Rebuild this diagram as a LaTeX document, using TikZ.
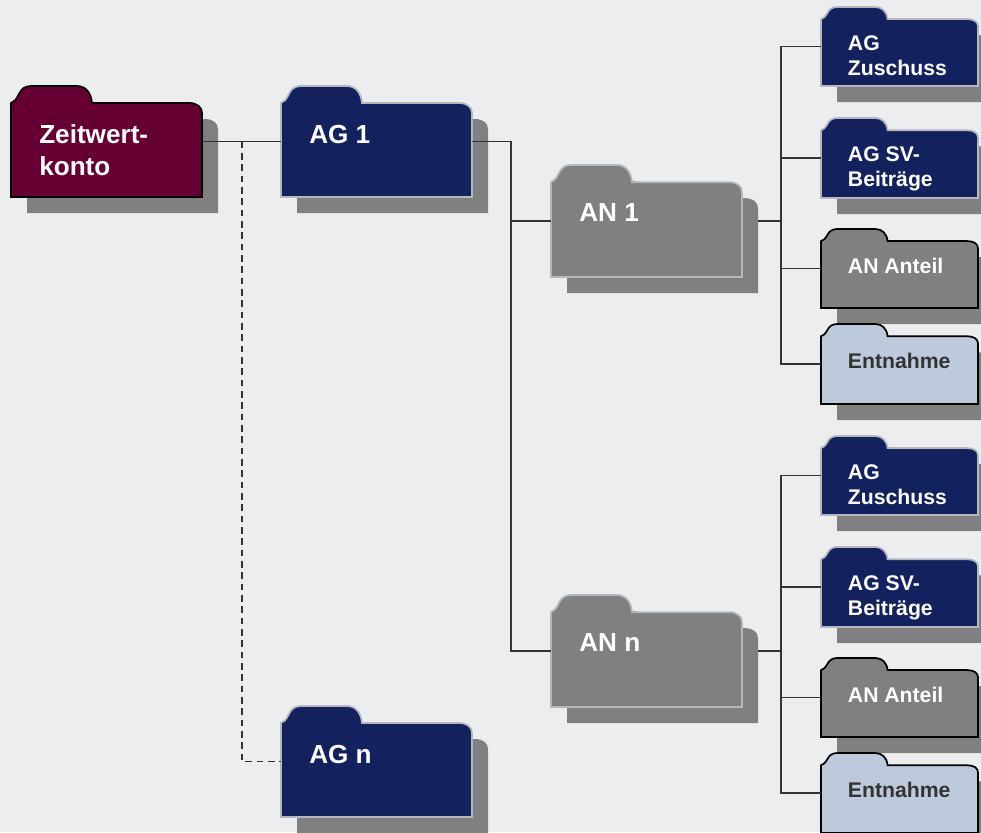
\documentclass[tikz,border=0pt]{standalone}
\usepackage{fontspec}
\setmainfont{Liberation Sans}
\definecolor{pagegrey}{HTML}{EBEDEF}
\definecolor{shadowgrey}{HTML}{808080}
\definecolor{maroonfill}{HTML}{660033}
\definecolor{navyfill}{HTML}{14215F}
\definecolor{paleblue}{HTML}{BDCADB}
\definecolor{paleedge}{HTML}{B4B8BC}
\definecolor{linegrey}{HTML}{333333}
\tikzset{
	foldermaroon/.style={fill=maroonfill,draw=black,line width=1.3pt},
	foldernavy/.style={fill=navyfill,draw=paleedge,line width=1.3pt},
	foldergrey/.style={fill=shadowgrey,draw=paleedge,line width=1.3pt},
	folderdark/.style={fill=shadowgrey,draw=black,line width=1.3pt},
	folderpale/.style={fill=paleblue,draw=black,line width=1.3pt},
	labelbig/.style={anchor=north west,inner sep=0pt,align=left,text=white,xshift=21pt,yshift=-29pt,
		font=\bfseries\fontsize{19.6}{24}\selectfont},
	labelsmall/.style={anchor=north west,inner sep=0pt,align=left,text=white,xshift=20pt,yshift=-21.6pt,
		font=\bfseries\fontsize{15.9}{18.8}\selectfont},
	labeldark/.style={labelsmall,text=linegrey},
	conn/.style={draw=linegrey,line width=1pt},
	connthick/.style={draw=linegrey,line width=1.6pt},
	conndash/.style={draw=linegrey,line width=1pt,dash pattern=on 5pt off 3.5pt},
}
\newcommand{\folderoutline}{(0,17) .. controls (3,16) and (5,14) .. (8,8) .. controls (10,3) and (14,0) .. (20,0)
	-- (66,0) .. controls (74,0) and (80,6) .. (81,17) -- (178,17) .. controls (186,17) and (191,21) .. (191,27)
	-- (191,111) -- (0,111) -- cycle}
% name, x, y, width, height, folder look, label look, text
\newcommand{\folder}[8]{
	\begin{scope}[shift={(#2+16,#3+16)},xscale=#4/191,yscale=#5/111]
		\fill[shadowgrey] \folderoutline;
	\end{scope}
	\begin{scope}[shift={(#2,#3)},xscale=#4/191,yscale=#5/111]
		\path[#6] \folderoutline;
	\end{scope}
	\node[anchor=north west,inner sep=0pt,outer sep=0pt,minimum width=#4*0.75pt,minimum height=#5*0.75pt] (#1) at (#2,#3) {};
	\node[#7] (#1text) at (#1.north west) {#8};
}

\begin{document}
\begin{tikzpicture}[x=0.75pt,y=-0.75pt]
		
		\useasboundingbox (0,0) rectangle (981,832);
		\clip (0,0) rectangle (981,832);
		\fill[pagegrey] (0,0) rectangle (981,832);
		
		\folder{zeit}{11}{86}{191}{111}{foldermaroon}{labelbig}{Zeitwert-\\konto}
		\folder{agone}{281}{86}{191}{111}{foldernavy}{labelbig}{AG 1}
		\folder{agn}{281}{706}{191}{111}{foldernavy}{labelbig}{AG n}
		\folder{anone}{551}{165}{191}{112}{foldergrey}{labelbig}{AN 1}
		\folder{ann}{551}{595}{191}{112}{foldergrey}{labelbig}{AN n}
		
		% upper column
		\folder{zuone}{821}{7}{157}{79}{foldernavy}{labelsmall}{AG\\Zuschuss}
		\folder{svone}{821}{118}{157}{80}{foldernavy}{labelsmall}{AG SV-\\Beiträge}
		\folder{antone}{821}{229}{157}{79}{folderdark}{labelsmall}{AN Anteil}
		\folder{entone}{821}{324}{157}{80}{folderpale}{labeldark}{Entnahme}
		
		% lower column
		\folder{zun}{821}{436}{157}{79}{foldernavy}{labelsmall}{AG\\Zuschuss}
		\folder{svn}{821}{547}{157}{80}{foldernavy}{labelsmall}{AG SV-\\Beiträge}
		\folder{antn}{821}{658}{157}{79}{folderdark}{labelsmall}{AN Anteil}
		\folder{entn}{821}{753}{157}{80}{folderpale}{labeldark}{Entnahme}
		
		\coordinate (dashbranch) at ([xshift=30pt]zeit.east);
		\coordinate (agbus) at ([xshift=29.25pt]agone.east);
		\coordinate (anoneout) at ([xshift=12pt]anone.east);
		\coordinate (annout) at ([xshift=12pt]ann.east);
		\coordinate (busone) at ([xshift=17.25pt]anoneout);
		\coordinate (busn) at ([xshift=17.25pt]annout);
		
		\draw[conn] (zeit.east) -- (agone.west);
		\draw[conndash] (dashbranch) |- (agn.west);
		\draw[conn] (agone.east) -- (agbus) |- (anone.west);
		\draw[conn] (agbus) |- (ann.west);
		
		\draw[connthick] (anoneout) -- (busone);
		\draw[conn] (busone) |- (zuone.west);
		\draw[conn] (busone) |- (svone.west);
		\draw[conn] (busone) |- (antone.west);
		\draw[conn] (busone) |- (entone.west);
		
		\draw[connthick] (annout) -- (busn);
		\draw[conn] (busn) |- (zun.west);
		\draw[conn] (busn) |- (svn.west);
		\draw[conn] (busn) |- (antn.west);
		\draw[conn] (busn) |- (entn.west);
		
\end{tikzpicture}
\end{document}
